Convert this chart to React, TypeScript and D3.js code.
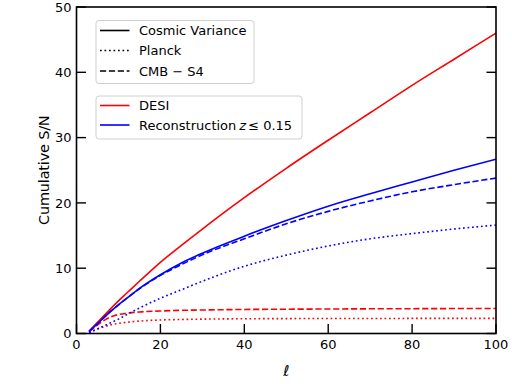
import * as d3 from "d3";

const ELL = [3, 5, 8, 10, 12, 15, 20, 25, 30, 40, 50, 60, 70, 80, 90, 100];

const DESI_CV = [0.4, 1.7, 3.7, 5.0, 6.2, 8.0, 10.9, 13.5, 16.0, 20.8, 25.3, 29.6, 33.8, 38.0, 42.0, 46.0];
const DESI_PLANCK = [0.2, 0.7, 1.3, 1.55, 1.72, 1.9, 2.07, 2.15, 2.2, 2.26, 2.28, 2.3, 2.3, 2.31, 2.32, 2.32];
const DESI_S4 = [0.3, 1.3, 2.5, 2.9, 3.1, 3.3, 3.45, 3.55, 3.6, 3.68, 3.72, 3.75, 3.78, 3.8, 3.82, 3.84];

const RECON_CV = [0.3, 1.5, 3.3, 4.4, 5.4, 6.9, 9.0, 10.8, 12.3, 14.9, 17.3, 19.5, 21.4, 23.2, 25.0, 26.7];
const RECON_PLANCK = [0.1, 0.7, 1.6, 2.2, 2.9, 3.9, 5.4, 6.7, 8.0, 10.3, 12.0, 13.4, 14.5, 15.3, 16.0, 16.6];
const RECON_S4 = [0.3, 1.5, 3.3, 4.4, 5.4, 6.85, 8.9, 10.55, 12.05, 14.5, 16.8, 18.7, 20.3, 21.7, 22.8, 23.8];

const X_TICKS = [0, 20, 40, 60, 80, 100];
const Y_TICKS = [0, 10, 20, 30, 40, 50];

const STYLE_LABELS = ["Cosmic Variance", "Planck", "CMB \u2212 S4"];
const TRACER_LABELS = ["DESI", "Reconstruction"];

const RED = "#ff0000";
const BLUE = "#0000ff";
const DOTTED = "1.7,2.8";
const DASHED = "6.2,2.7";
const FONT = "DejaVu Sans";

export default function App() {
  const W = 512;
  const H = 384;
  const m = { left: 76.5, right: 496, top: 7, bottom: 333.5 };

  const x = d3.scaleLinear().domain([0, 100]).range([m.left, m.right]);
  const y = d3.scaleLinear().domain([0, 50]).range([m.bottom, m.top]);

  const line = (vals: number[]) =>
    d3
      .line<number>()
      .x((_, i) => x(ELL[i]))
      .y((d) => y(d))
      .curve(d3.curveMonotoneX)(vals) || "";

  const series = [
    { vals: DESI_CV, color: RED, dash: undefined },
    { vals: DESI_PLANCK, color: RED, dash: DOTTED },
    { vals: DESI_S4, color: RED, dash: DASHED },
    { vals: RECON_CV, color: BLUE, dash: undefined },
    { vals: RECON_PLANCK, color: BLUE, dash: DOTTED },
    { vals: RECON_S4, color: BLUE, dash: DASHED },
  ];

  const tickLen = 9.5;
  const styleDash = [undefined, DOTTED, DASHED];
  const tracerColor = [RED, BLUE];

  return (
    <svg
      width={W}
      height={H}
      viewBox={`0 0 ${W} ${H}`}
      style={{ position: "absolute", left: 0, top: 0, background: "#fff" }}
      fontFamily={FONT}
    >
      <defs>
        <clipPath id="plot-clip">
          <rect x={m.left} y={m.top} width={m.right - m.left} height={m.bottom - m.top} />
        </clipPath>
      </defs>

      <g clipPath="url(#plot-clip)">
        {series.map((s, i) => (
          <path
            key={i}
            d={line(s.vals)}
            fill="none"
            stroke={s.color}
            strokeWidth={1.6}
            strokeDasharray={s.dash}
          />
        ))}
      </g>

      {/* ticks: left, right, bottom, pointing inward */}
      {Y_TICKS.map((t) => (
        <g key={`y${t}`}>
          <line x1={m.left} x2={m.left + tickLen} y1={y(t)} y2={y(t)} stroke="#000" strokeWidth={1.4} />
          <line x1={m.right} x2={m.right - tickLen} y1={y(t)} y2={y(t)} stroke="#000" strokeWidth={1.4} />
          <text x={m.left - 5} y={y(t)} dy="0.36em" textAnchor="end" fontSize={13}>
            {t}
          </text>
        </g>
      ))}
      {X_TICKS.map((t) => (
        <g key={`x${t}`}>
          <line x1={x(t)} x2={x(t)} y1={m.bottom} y2={m.bottom - tickLen} stroke="#000" strokeWidth={1.4} />
          <text x={x(t)} y={m.bottom + 15} textAnchor="middle" fontSize={13}>
            {t}
          </text>
        </g>
      ))}

      <rect
        x={m.left}
        y={m.top}
        width={m.right - m.left}
        height={m.bottom - m.top}
        fill="none"
        stroke="#000"
        strokeWidth={1.6}
      />

      <text
        transform={`translate(44,${(m.top + m.bottom) / 2}) rotate(-90)`}
        textAnchor="middle"
        dy="0.36em"
        fontSize={14.5}
        letterSpacing={-0.2}
      >
        Cumulative S/N
      </text>
      <text x={(m.left + m.right) / 2} y={376} textAnchor="middle" fontSize={15} fontStyle="italic">
        ℓ
      </text>

      {/* legend 1: line styles */}
      <rect x={96} y={20.5} width={158} height={63} rx={3} fill="#fff" fillOpacity={0.8} stroke="#d0d0d0" />
      {STYLE_LABELS.map((lab, i) => {
        const ly = [30.5, 50.5, 71][i];
        return (
          <g key={lab}>
            <line x1={100} x2={129.5} y1={ly} y2={ly} stroke="#000" strokeWidth={1.6} strokeDasharray={styleDash[i]} />
            <text x={139} y={ly} dy="0.36em" fontSize={13}>
              {lab}
            </text>
          </g>
        );
      })}

      {/* legend 2: tracers */}
      <rect x={96} y={96} width={206} height={43} rx={3} fill="#fff" fillOpacity={0.8} stroke="#d0d0d0" />
      {TRACER_LABELS.map((lab, i) => {
        const ly = [105.5, 125][i];
        return (
          <g key={lab}>
            <line x1={100} x2={129.5} y1={ly} y2={ly} stroke={tracerColor[i]} strokeWidth={1.6} />
            <text x={139} y={ly} dy="0.36em" fontSize={13}>
              {lab}
              {i === 1 && (
                <>
                  <tspan fontStyle="italic" dx={3}>z</tspan>
                  <tspan dx={2}>{"\u2264 0.15"}</tspan>
                </>
              )}
            </text>
          </g>
        );
      })}
    </svg>
  );
}
